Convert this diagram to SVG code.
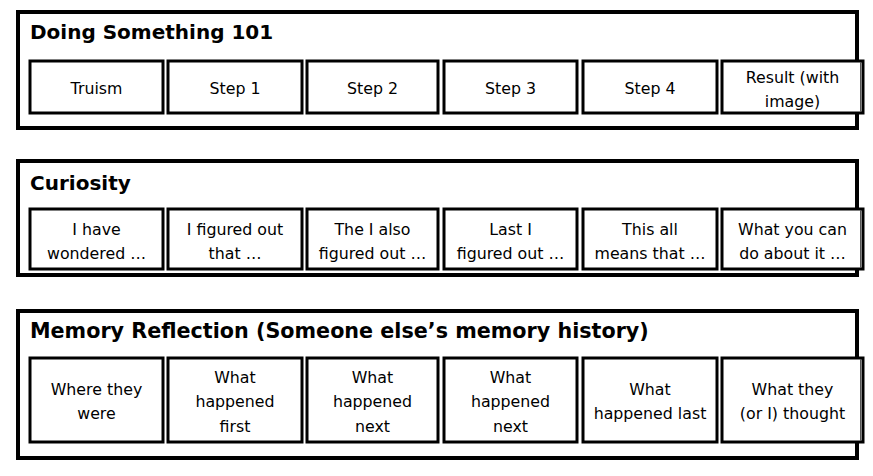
<svg xmlns="http://www.w3.org/2000/svg" width="873" height="476" viewBox="0 0 873 476">
<style>
.frame{fill:#fff;stroke:#000;stroke-width:4}
.box{fill:#fff;stroke:#000;stroke-width:3}
.edge{stroke:#555;stroke-width:1}
.title{font-family:"DejaVu Sans",sans-serif;font-weight:bold;font-size:20px;fill:#000}
.t{font-family:"DejaVu Sans",sans-serif;font-size:15.8px;fill:#000;text-anchor:middle}
</style>
<rect width="873" height="476" fill="#fff"/>
<!-- Section 1 -->
<g id="frame1"><rect class="frame" x="18" y="12" width="839" height="116"/><text class="title" x="30" y="39">Doing Something 101</text></g>
<g id="s1n1"><rect class="box" x="30" y="61" width="133" height="52"/><text class="t" x="96.5" y="94">Truism</text></g>
<g id="s1n2"><rect class="box" x="168" y="61" width="134" height="52"/><text class="t" x="235" y="94">Step 1</text></g>
<g id="s1n3"><rect class="box" x="307" y="61" width="131" height="52"/><text class="t" x="372.5" y="94">Step 2</text></g>
<g id="s1n4"><rect class="box" x="444" y="61" width="133" height="52"/><text class="t" x="510.5" y="94">Step 3</text></g>
<g id="s1n5"><rect class="box" x="583" y="61" width="134" height="52"/><text class="t" x="650" y="94">Step 4</text></g>
<g id="s1n6"><rect class="box" x="722" y="61" width="141" height="52"/><line class="edge" x1="860.5" y1="62" x2="860.5" y2="112"/><text class="t" x="792.5" y="83">Result (with</text><text class="t" x="792.5" y="107">image)</text></g>
<!-- Section 2 -->
<g id="frame2"><rect class="frame" x="18" y="161" width="839" height="114"/><text class="title" x="30" y="190">Curiosity</text></g>
<g id="s2n1"><rect class="box" x="30" y="209" width="133" height="60"/><text class="t" x="96.5" y="235">I have</text><text class="t" x="96.5" y="259">wondered …</text></g>
<g id="s2n2"><rect class="box" x="168" y="209" width="134" height="60"/><text class="t" x="235" y="235">I figured out</text><text class="t" x="235" y="259">that …</text></g>
<g id="s2n3"><rect class="box" x="307" y="209" width="131" height="60"/><text class="t" x="372.5" y="235">The I also</text><text class="t" x="372.5" y="259">figured out …</text></g>
<g id="s2n4"><rect class="box" x="444" y="209" width="133" height="60"/><text class="t" x="510.5" y="235">Last I</text><text class="t" x="510.5" y="259">figured out …</text></g>
<g id="s2n5"><rect class="box" x="583" y="209" width="134" height="60"/><text class="t" x="650" y="235">This all</text><text class="t" x="650" y="259">means that …</text></g>
<g id="s2n6"><rect class="box" x="722" y="209" width="141" height="60"/><line class="edge" x1="860.5" y1="210" x2="860.5" y2="268"/><text class="t" x="792.5" y="235">What you can</text><text class="t" x="792.5" y="259">do about it …</text></g>
<!-- Section 3 -->
<g id="frame3"><rect class="frame" x="18" y="311" width="839" height="147"/><text class="title" x="30" y="338" style="font-size:20.7px">Memory Reflection (Someone else’s memory history)</text></g>
<g id="s3n1"><rect class="box" x="30" y="358" width="133" height="84"/><text class="t" x="96.5" y="395">Where they</text><text class="t" x="96.5" y="419">were</text></g>
<g id="s3n2"><rect class="box" x="168" y="358" width="134" height="84"/><text class="t" x="235" y="383">What</text><text class="t" x="235" y="407">happened</text><text class="t" x="235" y="432">first</text></g>
<g id="s3n3"><rect class="box" x="307" y="358" width="131" height="84"/><text class="t" x="372.5" y="383">What</text><text class="t" x="372.5" y="407">happened</text><text class="t" x="372.5" y="432">next</text></g>
<g id="s3n4"><rect class="box" x="444" y="358" width="133" height="84"/><text class="t" x="510.5" y="383">What</text><text class="t" x="510.5" y="407">happened</text><text class="t" x="510.5" y="432">next</text></g>
<g id="s3n5"><rect class="box" x="583" y="358" width="134" height="84"/><text class="t" x="650" y="395">What</text><text class="t" x="650" y="419">happened last</text></g>
<g id="s3n6"><rect class="box" x="722" y="358" width="141" height="84"/><line class="edge" x1="860.5" y1="359" x2="860.5" y2="441"/><text class="t" x="792.5" y="395">What they</text><text class="t" x="792.5" y="419">(or I) thought</text></g>
<g id="connectors"/>
</svg>
